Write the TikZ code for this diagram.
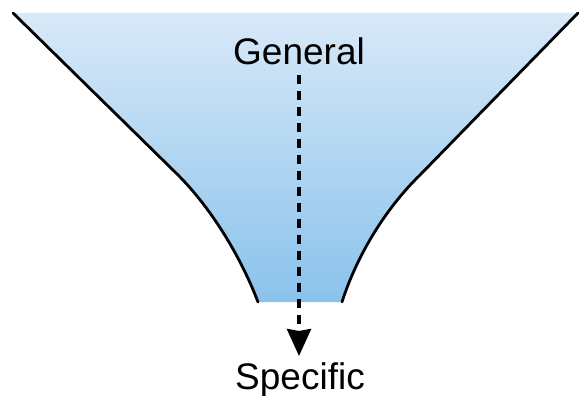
\documentclass[tikz,border=0pt]{standalone}
\usepackage{fontspec}
\setmainfont{Liberation Sans}
\usetikzlibrary{arrows.meta}
\usepackage{xcolor}
\definecolor{funneltop}{RGB}{216,233,248}
\definecolor{funnelbottom}{RGB}{138,194,236}

\begin{document}
\begin{tikzpicture}[
x=1pt, y=-1pt,
word/.style={
	font=\fontsize{37}{44}\selectfont,
	inner sep=0pt, anchor=base,
},
funnel side/.style={draw=black, line width=2.8pt, line cap=round},
flow/.style={draw, line width=3.6pt, dash pattern=on 9pt off 7pt,
	-{Stealth[length=27pt,width=24pt,inset=2pt]}},
]
\useasboundingbox (0,0) rectangle (581,396);
% funnel body
\shade[top color=funneltop, bottom color=funnelbottom]
    (13,13) -- (175,172) .. controls (210,206) and (240,255) .. (258,302)
    -- (342,302) .. controls (357,255) and (386,208) .. (420,175)
    -- (578,13) -- cycle;
\draw[funnel side] (13,13) -- (175,172) .. controls (210,206) and (240,255) .. (258,302);
\draw[funnel side] (578,13) -- (420,175) .. controls (386,208) and (357,255) .. (342,302);
% labels
\node[word] (general) at (299,64) {General};
\node[word] (specific) at (300,389) {Specific};
\draw[flow, shorten <=10pt, shorten >=6pt] (general.south) -- (general.south |- specific.north);
\end{tikzpicture}
\end{document}
